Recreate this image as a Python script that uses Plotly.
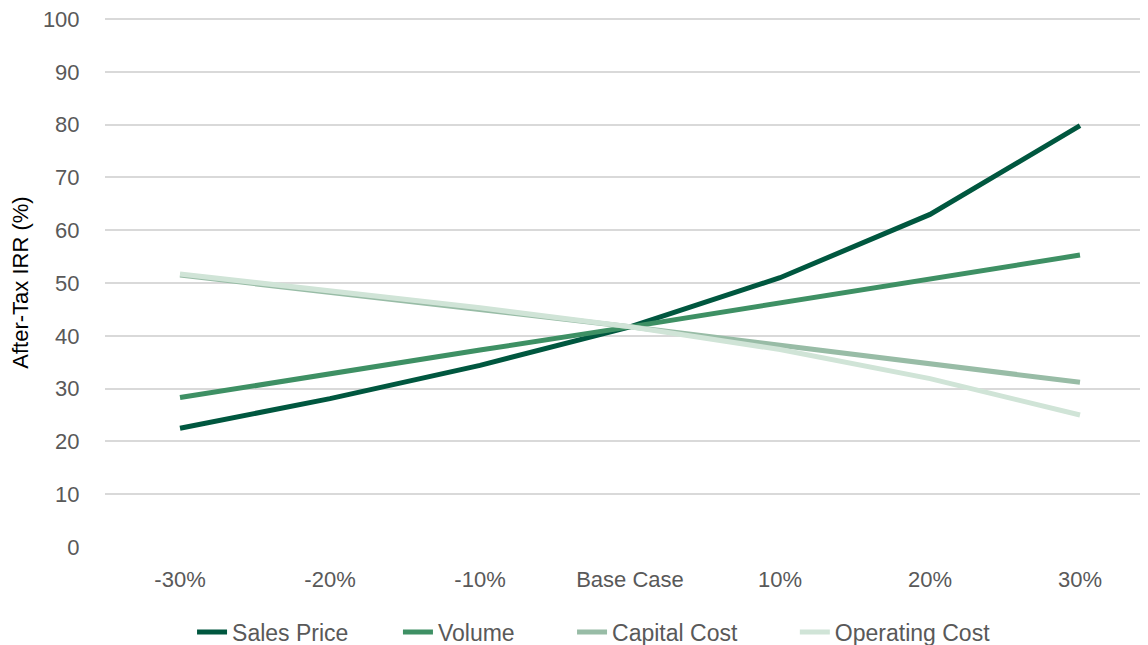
import plotly.graph_objects as go

categories = ["-30%", "-20%", "-10%", "Base Case", "10%", "20%", "30%"]
sales_price = [22.5, 28.1, 34.4, 41.7, 51.0, 63.0, 79.8]
volume = [28.3, 32.9, 37.3, 41.7, 46.2, 50.7, 55.3]
capital_cost = [51.5, 48.3, 45.0, 41.7, 38.2, 34.7, 31.2]
operating_cost = [51.7, 48.6, 45.3, 41.7, 37.4, 31.9, 25.0]

series = [
    ("Sales Price", sales_price, "#00573F", "legend", 0.0829),
    ("Volume", volume, "#3E9064", "legend2", 0.279),
    ("Capital Cost", capital_cost, "#98BCA6", "legend3", 0.4448),
    ("Operating Cost", operating_cost, "#D0E4D7", "legend4", 0.657),
]

FONT = "Liberation Sans, Arial, sans-serif"
TXT = "#595959"

fig = go.Figure()
legends = {}
for name, vals, color, lg, lx in series:
    fig.add_trace(go.Scatter(
        x=categories, y=vals, name=name, mode="lines",
        line=dict(color=color, width=5), legend=lg,
    ))
    legends[lg] = dict(orientation="h", x=lx, xanchor="left", y=-0.1607, yanchor="middle",
                       font=dict(family=FONT, size=23, color=TXT),
                       bgcolor="rgba(0,0,0,0)", borderwidth=0)

fig.update_layout(
    width=1148, height=645,
    margin=dict(l=97, r=1, t=10, b=106, autoexpand=False),
    paper_bgcolor="white", plot_bgcolor="white",
    font=dict(family=FONT, size=22, color=TXT),
    showlegend=True,
    **legends,
    xaxis=dict(type="category", range=[-0.5, 6.5], showgrid=False, showline=False,
               zeroline=False, ticks="outside", ticklen=13, tickcolor="white", automargin=False,
               tickfont=dict(family=FONT, size=22, color=TXT)),
    yaxis=dict(range=[0, 100.2], tickvals=[0, 10, 20, 30, 40, 50, 60, 70, 80, 90, 100],
               showgrid=True, gridcolor="#D9D9D9", gridwidth=1.5, automargin=False,
               zeroline=False, showline=False, ticks="outside", ticklen=20, tickcolor="white",
               ticklabeloverflow="allow",
               tickfont=dict(family=FONT, size=22, color=TXT),
               title=dict(text="After-Tax IRR (%)", font=dict(family=FONT, size=22, color="#000000"),
                          standoff=20)),
)

fig.write_html("out.html")
